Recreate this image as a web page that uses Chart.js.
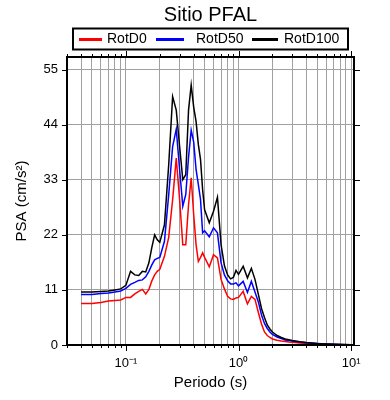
<!DOCTYPE html>
<html>
<head>
<meta charset="utf-8">
<script src="https://cdn.jsdelivr.net/npm/chart.js@4.4.1/dist/chart.umd.min.js"></script>
<style>
  html, body { margin: 0; padding: 0; background: #fff; }
  #wrap { width: 390px; height: 400px; }
</style>
</head>
<body>
<div id="wrap"><canvas id="psa-chart" width="390" height="400"></canvas></div>
<script>
// Espectros de respuesta - Sitio PFAL
const titulo = 'Sitio PFAL';

const periodos = [
  0.04, 0.05, 0.06, 0.07, 0.08, 0.09, 0.10, 0.11, 0.12, 0.13,
  0.14, 0.15, 0.16, 0.17, 0.18, 0.19, 0.20, 0.22, 0.24, 0.26,
  0.28, 0.30, 0.32, 0.34, 0.36, 0.38, 0.40, 0.42, 0.44, 0.46,
  0.48, 0.50, 0.55, 0.60, 0.65, 0.70, 0.75, 0.80, 0.85, 0.90,
  0.95, 1.0, 1.1, 1.2, 1.3, 1.4, 1.5, 1.6, 1.7, 1.8,
  1.9, 2.0, 2.2, 2.4, 2.6, 2.8, 3.0, 3.5, 4.0, 5.0,
  6.0, 7.0, 8.0, 9.0, 10.0
];

const rotD0 = [
  8.3, 8.3, 8.5, 8.8, 8.9, 9.0, 9.5, 9.5, 10.2, 10.7,
  11.1, 10.2, 11.1, 12.8, 14.0, 14.7, 15.1, 17.7, 21.5, 29.0,
  37.3, 29.0, 20.0, 20.0, 28.0, 33.4, 26.0, 20.0, 16.7, 17.5,
  18.4, 17.5, 15.6, 18.0, 17.4, 13.1, 11.2, 9.7, 9.2, 9.1,
  9.4, 9.5, 10.7, 8.2, 9.7, 9.1, 6.5, 4.2, 2.6, 1.9,
  1.5, 1.2, 0.95, 0.8, 0.7, 0.6, 0.55, 0.4, 0.3, 0.2,
  0.15, 0.1, 0.08, 0.06, 0.05
];

const rotD50 = [
  10.1, 10.1, 10.3, 10.4, 10.6, 10.8, 11.3, 12.1, 12.5, 12.9,
  13.0, 13.6, 14.7, 16.0, 17.0, 17.3, 17.5, 20.7, 30.0, 39.6,
  43.1, 35.0, 27.7, 30.0, 37.5, 42.9, 40.5, 35.0, 32.0, 29.0,
  22.4, 22.8, 21.6, 23.4, 22.4, 16.4, 14.0, 12.8, 12.2, 12.2,
  12.4, 11.8, 12.7, 10.5, 12.7, 10.6, 8.6, 6.0, 4.3, 3.3,
  2.6, 2.1, 1.6, 1.3, 1.0, 0.9, 0.8, 0.6, 0.45, 0.3,
  0.2, 0.14, 0.1, 0.07, 0.05
];

const rotD100 = [
  10.6, 10.6, 10.7, 10.8, 11.0, 11.2, 11.9, 14.7, 14.0, 13.9,
  14.7, 14.6, 16.4, 19.5, 22.0, 21.0, 20.5, 24.0, 36.0, 49.6,
  46.9, 39.6, 33.0, 34.0, 46.9, 51.9, 47.5, 44.6, 40.0, 37.0,
  31.0, 27.0, 24.4, 26.7, 29.5, 20.0, 15.8, 14.0, 13.2, 13.5,
  14.9, 14.1, 15.7, 13.4, 15.3, 13.1, 10.1, 7.3, 5.5, 4.0,
  3.2, 2.6, 1.9, 1.5, 1.2, 1.05, 0.9, 0.65, 0.5, 0.32,
  0.22, 0.15, 0.1, 0.08, 0.06
];

const nombres = ['RotD0', 'RotD50', 'RotD100'];
const colores = ['#ff0000', '#0000ff', '#000000'];

const yTicks = [0, 11, 22, 33, 44, 55];
const xTickValues = [0.1, 1, 10];
const xTickLabels = ['10\u207B\u00B9', '10\u2070', '10\u00B9'];

const FONT = "'Liberation Sans', Arial, Helvetica, sans-serif";

function puntos(valores) {
  return periodos.map((t, i) => ({ x: t, y: valores[i] }));
}

function esPotencia(v) {
  const l = Math.log10(v);
  return Math.abs(l - Math.round(l)) < 1e-6;
}

function esMenor(v) {
  const s = v / Math.pow(10, Math.floor(Math.log10(v) + 1e-9));
  return Math.abs(s - Math.round(s)) < 1e-6;
}

// marco, marcas de ejes, titulo y leyenda
const cadrePlugin = {
  id: 'cadre',
  afterDraw(chart) {
    const ctx = chart.ctx;
    const a = chart.chartArea;
    const sx = chart.scales.x;
    const sy = chart.scales.y;

    ctx.save();
    ctx.strokeStyle = '#000';
    ctx.lineWidth = 1;
    ctx.beginPath();
    sx.ticks.forEach(t => {
      if (!esMenor(t.value)) return;
      const px = Math.round(sx.getPixelForValue(t.value)) + 0.5;
      const len = esPotencia(t.value) ? 6 : 3;
      ctx.moveTo(px, a.bottom);
      ctx.lineTo(px, a.bottom + len);
      ctx.moveTo(px, a.top);
      ctx.lineTo(px, a.top - len);
    });
    yTicks.forEach(v => {
      const py = Math.round(sy.getPixelForValue(v)) + 0.5;
      ctx.moveTo(a.left - 5, py);
      ctx.lineTo(a.left, py);
      ctx.moveTo(a.right, py);
      ctx.lineTo(a.right + 6, py);
    });
    ctx.stroke();

    ctx.lineWidth = 2;
    ctx.strokeRect(a.left, a.top, a.right - a.left, a.bottom - a.top);

    // titulo
    const cx = (a.left + a.right) / 2;
    ctx.fillStyle = '#000';
    ctx.font = '20px ' + FONT;
    ctx.textAlign = 'center';
    ctx.textBaseline = 'middle';
    ctx.fillText(titulo, cx, 15);

    // leyenda
    ctx.lineWidth = 2;
    ctx.strokeRect(73, 28.5, 275, 21);
    ctx.font = '14px ' + FONT;
    ctx.textAlign = 'left';
    const items = [
      { x0: 79, x1: 102, tx: 107 },
      { x0: 156, x1: 184, tx: 196 },
      { x0: 252, x1: 278, tx: 284 }
    ];
    chart.data.datasets.forEach((ds, i) => {
      const it = items[i];
      ctx.strokeStyle = ds.borderColor;
      ctx.lineWidth = 3;
      ctx.beginPath();
      ctx.moveTo(it.x0, 39.5);
      ctx.lineTo(it.x1, 39.5);
      ctx.stroke();
      ctx.fillStyle = '#000';
      ctx.fillText(ds.label, it.tx, 39.5);
    });
    ctx.restore();
  }
};

const ctx = document.getElementById('psa-chart').getContext('2d');

new Chart(ctx, {
  type: 'line',
  data: {
    datasets: [
      { label: nombres[0], data: puntos(rotD0), borderColor: colores[0], order: 2 },
      { label: nombres[1], data: puntos(rotD50), borderColor: colores[1], order: 1 },
      { label: nombres[2], data: puntos(rotD100), borderColor: colores[2], order: 0 }
    ].map(d => ({ ...d, borderWidth: 1.5, pointRadius: 0, tension: 0, fill: false }))
  },
  options: {
    responsive: false,
    animation: false,
    layout: { padding: { top: 57, right: 36, bottom: 0, left: 0 } },
    plugins: {
      legend: { display: false },
      title: { display: false },
      tooltip: { enabled: false }
    },
    scales: {
      x: {
        type: 'logarithmic',
        min: 0.03,
        max: 10.6,
        afterFit: s => { s.height = 55; },
        grid: {
          color: t => (t.tick && esMenor(t.tick.value) ? '#a0a0a0' : 'rgba(0,0,0,0)'),
          lineWidth: 1,
          drawTicks: false
        },
        border: { display: false },
        ticks: {
          autoSkip: false,
          maxRotation: 0,
          padding: 11,
          color: '#000',
          font: { family: FONT, size: 13 },
          callback: v => {
            const i = xTickValues.findIndex(p => Math.abs(p - v) < 1e-9);
            return i >= 0 ? xTickLabels[i] : '';
          }
        },
        title: {
          display: true,
          text: 'Periodo (s)',
          color: '#000',
          font: { family: FONT, size: 15 },
          padding: { top: 0, bottom: 8 }
        }
      },
      y: {
        min: 0,
        max: 57.5,
        afterFit: s => { s.width = 67; },
        afterBuildTicks: s => { s.ticks = yTicks.map(v => ({ value: v })); },
        grid: { color: '#a0a0a0', lineWidth: 1, drawTicks: false },
        border: { display: false },
        ticks: {
          padding: 9,
          color: '#000',
          font: { family: FONT, size: 13 }
        },
        title: {
          display: true,
          text: 'PSA (cm/s\u00B2)',
          color: '#000',
          font: { family: FONT, size: 15 },
          padding: { top: 13, bottom: 0 }
        }
      }
    }
  },
  plugins: [cadrePlugin]
});
</script>
</body>
</html>
